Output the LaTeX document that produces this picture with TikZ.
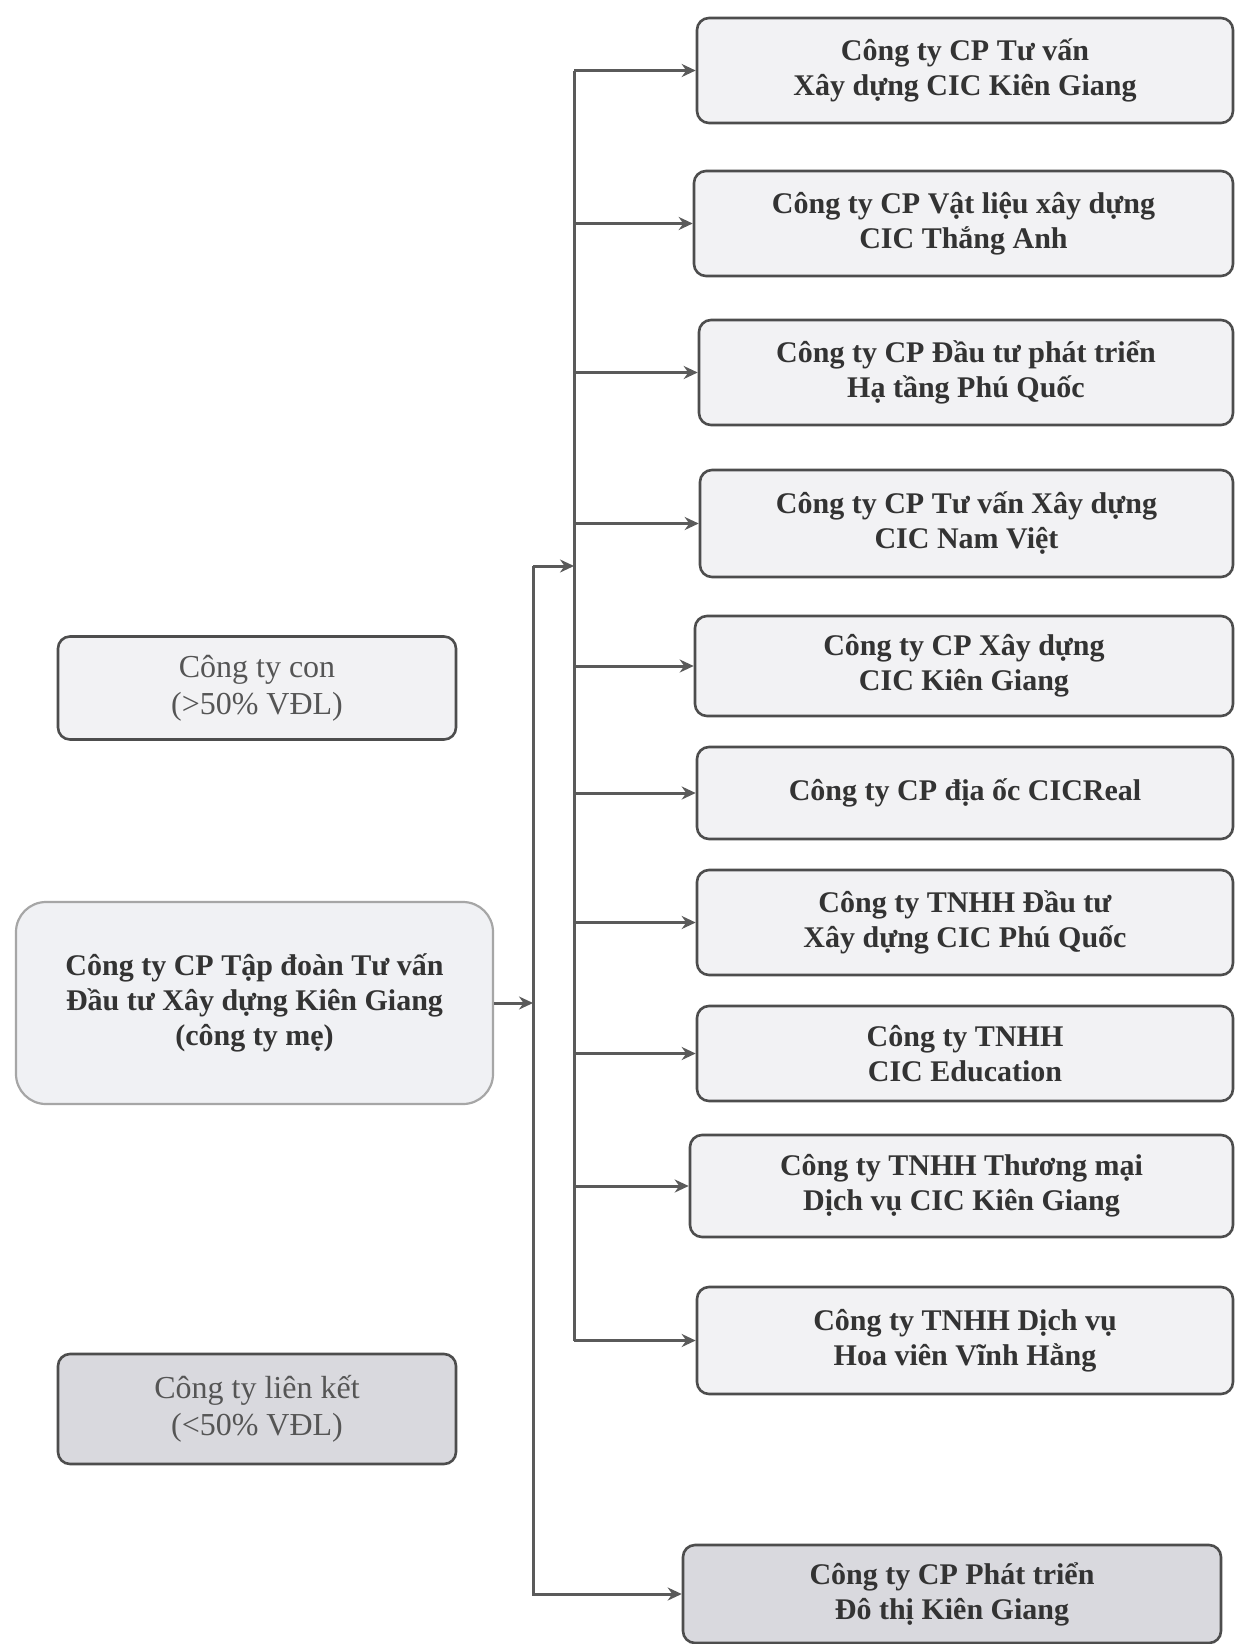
\documentclass[tikz,border=0pt]{standalone}
\usepackage{fontspec}
\setmainfont{Liberation Serif}
\usetikzlibrary{arrows.meta}
\definecolor{linegray}{HTML}{5A5A5A}
\definecolor{boxline}{HTML}{4D4D4D}
\definecolor{lightfill}{HTML}{F2F2F4}
\definecolor{darkfill}{HTML}{D9D9DE}
\definecolor{parentfill}{HTML}{F0F1F4}
\definecolor{txtbold}{HTML}{333333}
\definecolor{txtreg}{HTML}{555555}
\begin{document}
\begin{tikzpicture}[x=1pt,y=-1pt,
  sub/.style={draw=boxline, line width=2.6pt, fill=lightfill, rounded corners=12pt,
    align=center, text=txtbold, font=\fontsize{30}{35}\selectfont\bfseries,
    inner sep=0pt, anchor=center},
  subd/.style={sub, fill=darkfill},
  legend/.style={draw=boxline, line width=2.6pt, rounded corners=12pt, align=center,
    text=txtreg, font=\fontsize{32}{37}\selectfont, inner sep=0pt},
  parentbox/.style={draw=gray!70, line width=2.2pt, fill=parentfill, rounded corners=30pt,
    align=center, text=txtbold, font=\fontsize{30}{35}\selectfont\bfseries, inner sep=0pt},
  conn/.style={draw=linegray, line width=3pt},
  arr/.style={conn, -{Stealth[length=14pt,width=13pt]}}
]
\useasboundingbox[fill=white] (0,0) rectangle (1237,1644);

% right column
\node[sub, minimum width=536pt, minimum height=105pt] (b1) at (965,70.5)
  {Công ty CP Tư vấn\\Xây dựng CIC Kiên Giang};
\node[sub, minimum width=539pt, minimum height=105pt] (b2) at (963.5,223.5)
  {Công ty CP Vật liệu xây dựng\\CIC Thắng Anh};
\node[sub, minimum width=534pt, minimum height=105pt] (b3) at (966,372.5)
  {Công ty CP Đầu tư phát triển\\Hạ tầng Phú Quốc};
\node[sub, minimum width=533pt, minimum height=107pt] (b4) at (966.5,523.5)
  {Công ty CP Tư vấn Xây dựng\\CIC Nam Việt};
\node[sub, minimum width=538pt, minimum height=100pt] (b5) at (964,666)
  {Công ty CP Xây dựng\\CIC Kiên Giang};
\node[sub, minimum width=536pt, minimum height=92pt] (b6) at (965,793)
  {Công ty CP địa ốc CICReal};
\node[sub, minimum width=536pt, minimum height=105pt] (b7) at (965,922.5)
  {Công ty TNHH Đầu tư\\Xây dựng CIC Phú Quốc};
\node[sub, minimum width=536pt, minimum height=95pt] (b8) at (965,1053.5)
  {Công ty TNHH\\CIC Education};
\node[sub, minimum width=543pt, minimum height=102pt] (b9) at (961.5,1186)
  {Công ty TNHH Thương mại\\Dịch vụ CIC Kiên Giang};
\node[sub, minimum width=536pt, minimum height=107pt] (b10) at (965,1340.5)
  {Công ty TNHH Dịch vụ\\Hoa viên Vĩnh Hằng};
\node[subd, minimum width=538pt, minimum height=98pt] (b11) at (952,1594)
  {Công ty CP Phát triển\\Đô thị Kiên Giang};

% left column
\node[legend, fill=lightfill, minimum width=398pt, minimum height=103pt] (leg1) at (257,688)
  {Công ty con\\(>50\% VĐL)};
\node[parentbox, minimum width=477pt, minimum height=202pt] (parent) at (254.5,1003)
  {Công ty CP Tập đoàn Tư vấn\\Đầu tư Xây dựng Kiên Giang\\(công ty mẹ)};
\node[legend, fill=darkfill, minimum width=398pt, minimum height=110pt] (leg2) at (257,1409)
  {Công ty liên kết\\(<50\% VĐL)};

% connectors
\coordinate (t1top) at (533,566);
\coordinate (j2) at (574,566);
\draw[arr] (parent.east) -- (parent.east -| t1top);
\draw[conn] (t1top) -- (t1top |- b11.west);
\draw[arr] (t1top) |- (b11.west);
\draw[arr] (t1top) -- (j2);
\draw[conn] (b1.west -| j2) -- (b10.west -| j2);
\foreach \i in {1,...,10}{
  \draw[arr] (b\i.west -| j2) -- (b\i.west);
}
\end{tikzpicture}
\end{document}
